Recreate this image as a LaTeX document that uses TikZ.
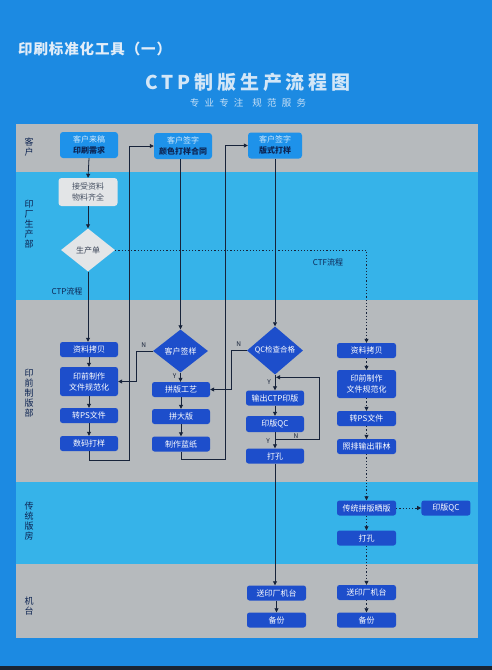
\documentclass[tikz,border=0pt]{standalone}
\usepackage{fontspec}
\newfontfamily\cjk{Noto Sans CJK SC}
\usepackage{tikz}
\usetikzlibrary{calc,positioning,arrows.meta,shapes.geometric}
\usepackage{xcolor}
\definecolor{bgblue}{HTML}{1C8AE2}
\definecolor{laneblue}{HTML}{36B3E9}
\definecolor{lanegrey}{HTML}{B6BABD}
\definecolor{custblue}{HTML}{1E92EA}
\definecolor{custtext}{HTML}{D4EAFB}
\definecolor{procblue}{HTML}{1D4ECB}
\definecolor{darkline}{HTML}{17233A}
\definecolor{navytext}{HTML}{0D2452}
\definecolor{titlewhite}{HTML}{E2EDF8}
\definecolor{paleblock}{HTML}{E3E5E7}
\definecolor{bottomline}{HTML}{1A2433}

\begin{document}
\begin{tikzpicture}[x=1pt, y=-1pt,
    every node/.style={font=\cjk\fontsize{8}{11}\selectfont, inner sep=1pt},
    custbox/.style={fill=custblue, rounded corners=3pt, minimum width=58pt, minimum height=26pt, align=center},
    procbox/.style={fill=procblue, rounded corners=2.5pt, minimum width=58pt, minimum height=15pt, align=center, text=white},
    palebox/.style={fill=paleblock, rounded corners=3pt, minimum width=59pt, minimum height=28pt, align=center, text=darkline!80},
    decision/.style={diamond, fill=procblue, text=white, minimum width=56pt, minimum height=42pt, inner sep=0pt},
    lanelabel/.style={text=navytext, align=center, font=\cjk\fontsize{9}{10}\selectfont},
    note/.style={text=navytext, font=\cjk\fontsize{8}{10}\selectfont},
    yn/.style={text=darkline, font=\cjk\fontsize{6.5}{7}\selectfont, inner sep=0pt},
    flow/.style={draw=darkline, line width=0.8pt, -{Triangle[length=4pt, width=4pt]}},
    ctf/.style={flow, dash pattern=on 1.2pt off 2pt}]
    \useasboundingbox (0,0) rectangle (492,670);
    \fill[bgblue] (0,0) rectangle (492,670);
    \fill[bottomline] (0,666) rectangle (492,670);

    % Lanes
    \foreach \ytop/\ybot/\col in {124/172/lanegrey, 172/300/laneblue, 300/482/lanegrey, 482/564/laneblue, 564/638/lanegrey}
        \fill[\col] (16,\ytop) rectangle (478,\ybot);
    \foreach \ly/\lt [count=\i] in {147/{客\\户}, 224/{印\\厂\\生\\产\\部}, 393/{印\\前\\制\\版\\部}, 521/{传\\统\\版\\房}, 606/{机\\台}}
        \node[lanelabel] (lane\i) at (29,\ly) {\lt};

    % Titles
    \node[anchor=west, text=titlewhite, font=\cjk\bfseries\addfontfeature{LetterSpace=6}\fontsize{14.5}{16}\selectfont] (toptitle) at (17,48.5) {印刷标准化工具（一）};
    \node[text=titlewhite!92!custblue, font=\cjk\bfseries\addfontfeature{LetterSpace=20}\fontsize{19}{22}\selectfont] (ctptitle) at (248,82) {CTP制版生产流程图};
    \node[below=5pt of ctptitle, text=titlewhite!85!custblue, font=\cjk\addfontfeature{LetterSpace=55}\fontsize{9.5}{10}\selectfont] (slogan) {专业专注\hspace{9pt}规范服务};

    % Customer
    \node[custbox] (A1) at (89,145) {{\color{custtext}客户来稿}\\{\bfseries\color{navytext}印刷需求}};
    \node[custbox] (A2) at (183,146) {{\color{custtext}客户签字}\\{\bfseries\color{navytext}颜色打样合同}};
    \node[custbox, minimum width=54pt] (A3) at (275,145.5) {{\color{custtext}客户签字}\\{\bfseries\color{navytext}版式打样}};

    % Production department
    \node[palebox] (B1) at (88,192) {接受资料\\物料齐全};
    \node[decision, fill=paleblock, text=darkline!85, minimum width=54pt, minimum height=43pt] (B2) at (88,250) {生产单};

    % Prepress: CTP, left
    \node[procbox] (C1) at (89,349.5) {资料拷贝};
    \node[procbox, minimum height=29pt] (C2) at (89,381.5) {印前制作\\文件规范化};
    \node[procbox] (C3) at (89,415.5) {转PS文件};
    \node[procbox] (C4) at (89,443.5) {数码打样};

    % Prepress: CTP, middle
    \node[decision, minimum width=55pt, minimum height=43pt] (D0) at (180.5,351) {客户签样};
    \node[procbox] (D1) at (181,389.5) {拼版工艺};
    \node[procbox] (D2) at (181,416.5) {拼大版};
    \node[procbox] (D3) at (181,444) {制作蓝纸};

    % Prepress: CTP, output
    \node[decision, font=\cjk\fontsize{7.5}{9}\selectfont] (E0) at (275,350.5) {QC检查合格};
    \node[procbox] (E1) at (275,398) {输出CTP印版};
    \node[procbox, minimum height=16pt] (E2) at (275,424) {印版QC};
    \node[procbox] (E3) at (275,456) {打孔};
    \node[procbox, minimum width=59pt] (E4) at (276.5,593) {送印厂机台};
    \node[procbox, minimum width=59pt] (E5) at (276.5,620) {备份};

    % CTF column
    \node[procbox, minimum width=59pt] (F1) at (366.5,350.5) {资料拷贝};
    \node[procbox, minimum width=59pt, minimum height=28pt] (F2) at (366.5,384) {印前制作\\文件规范化};
    \node[procbox, minimum width=59pt] (F3) at (366.5,418.5) {转PS文件};
    \node[procbox, minimum width=59pt] (F4) at (366.5,446.5) {照排输出菲林};
    \node[procbox, minimum width=59pt] (F5) at (366.5,508) {传统拼版晒版};
    \node[procbox, minimum width=49pt, right=25pt of F5] (F6) {印版QC};
    \node[procbox, minimum width=59pt] (F7) at (366.5,538) {打孔};
    \node[procbox, minimum width=59pt] (F8) at (366.5,592.5) {送印厂机台};
    \node[procbox, minimum width=59pt] (F9) at (366.5,620) {备份};

    % Straight links
    \draw[flow] (A1.south) -- (B1.north);
    \draw[flow] (B1.south) -- (B2.north);
    \draw[flow] (B2.south) -- (B2.south |- C1.north);
    \draw[flow] (D0.north |- A2.south) -- (D0.north);
    \draw[flow] (A3.south) -- (E0.north);
    \draw[flow] (D0.south) -- (D0.south |- D1.north);
    \draw[flow] (E0.south) -- (E1.north);
    \draw[flow] (E2.south) -- (E3.north);
    \draw[flow] (E3.south) -- (E3.south |- E4.north);
    \foreach \a/\b in {C1/C2, C2/C3, C3/C4, D1/D2, D2/D3, E1/E2, E4/E5}
        \draw[flow] (\a.south) -- (\b.north);

    % Return links
    \draw[flow] (C4.south) -- ++(0,9) -| ($(A2.west)+(-24,0)$) -- (A2.west);
    \draw[flow] (D3.south) -- ++(0,8) -| ($(A3.west)+(-22,0)$) -- (A3.west);
    \draw[flow] (D0.west) -- ++(-16,0) |- (C2.east);
    \draw[flow] (E0.west) -- ++(-15,0) |- (D1.east);
    \coordinate (qcfail) at ($(E2.south)+(0,7)$);
    \coordinate (qcback) at ($(E1.north)+(1,-13)$);
    \draw[flow] (qcfail) -- ++(44,0) |- (qcback);

    % CTF links
    \draw[ctf] (B2.east) -| (F1.north);
    \foreach \a/\b in {F1/F2, F2/F3, F3/F4, F4/F5, F5/F7, F7/F8, F8/F9}
        \draw[ctf] (\a.south) -- (\b.north);
    \draw[ctf] (F5.east) -- (F6.west);

    % Labels
    \node[note] (ctplabel) at (67,291) {CTP流程};
    \node[note] (ctflabel) at (328,262) {CTF流程};
    \node[yn] (dn) at ($(D0.west)+(-9,-6)$) {N};
    \node[yn] (dy) at ($(D0.south)+(-6,3)$) {Y};
    \node[yn] (en) at ($(E0.west)+(-8,-6)$) {N};
    \node[yn] (ey) at ($(E0.south)+(-6,7)$) {Y};
    \node[yn] (qy) at ($(E2.south)+(-7,9)$) {Y};
    \node[yn] (qn) at ($(E2.south)+(21,4)$) {N};
\end{tikzpicture}
\end{document}
